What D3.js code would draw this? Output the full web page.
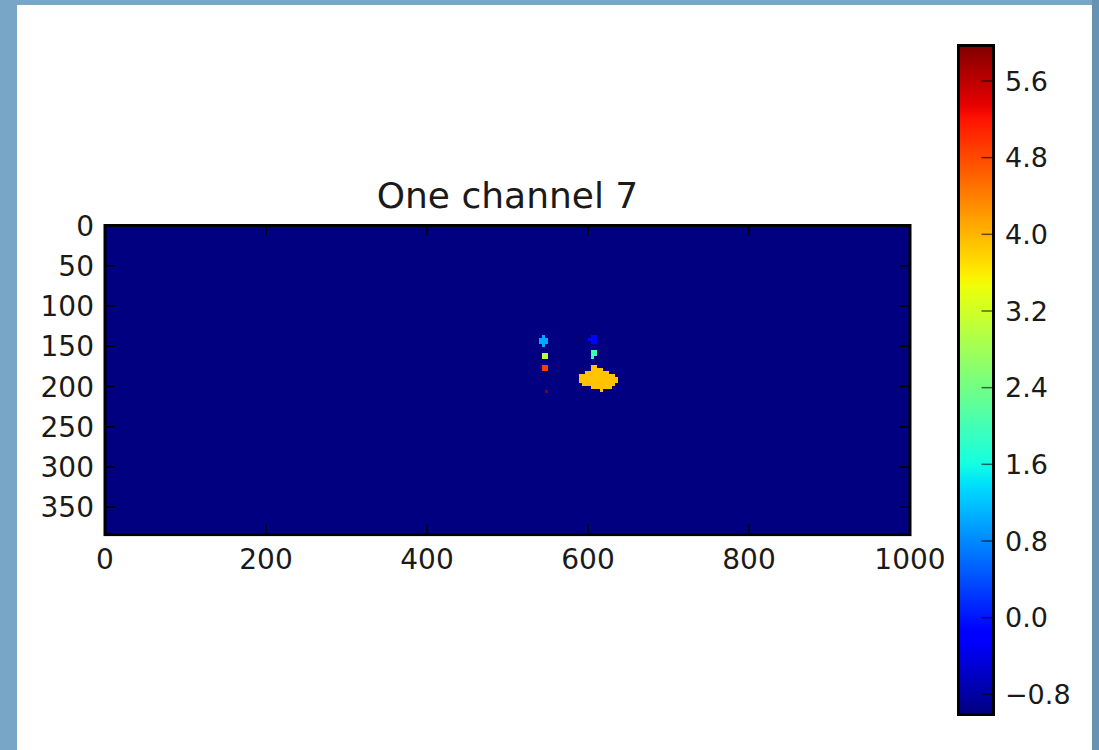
<!DOCTYPE html>
<html>
<head>
<meta charset="utf-8">
<script src="https://cdn.jsdelivr.net/npm/d3@7"></script>
<style>
  body { margin: 0; background: #78a6c6; }
  svg { display: block; }
  text { font-family: "DejaVu Sans", sans-serif; fill: #1a1a1a; }
</style>
</head>
<body>
<div id="root"></div>
<script>
// image data (pixel units of the 1000 x 384 image)
const imageWidth = 1000;
const imageHeight = 384;
const backgroundValue = -1.0;
const colorMin = -1.01;
const colorMax = 5.97;

const xTicks = [0, 200, 400, 600, 800, 1000];
const yTicks = [0, 50, 100, 150, 200, 250, 300, 350];
const colorTicks = [-0.8, 0.0, 0.8, 1.6, 2.4, 3.2, 4.0, 4.8, 5.6];

// bright spots: [x0, y0, x1, y1, value]
const spots = [
  [543, 136, 547, 151, 1.0],
  [539, 140, 550, 147, 1.0],
  [604, 136, 611, 147, -0.1],
  [600, 140, 604, 144, -0.1],
  [543, 158, 550, 166, 3.0],
  [543, 173, 550, 181, 4.9],
  [547, 204, 550, 208, 5.9],
  [604, 155, 611, 162, 2.0],
  [604, 162, 608, 166, 1.7]
];

// orange blob, row by row: [y0, y1, x0, x1]
const blobValue = 3.9;
const blobRows = [
  [173, 177, 604, 611],
  [177, 181, 604, 619],
  [181, 184, 596, 626],
  [184, 188, 589, 634],
  [188, 192, 589, 637],
  [192, 196, 589, 637],
  [196, 199, 593, 634],
  [199, 203, 604, 630],
  [203, 207, 615, 619]
];

const title = "One channel 7";

// jet colormap
const jetR = d3.scaleLinear().domain([0, 0.35, 0.66, 0.89, 1]).range([0, 0, 1, 1, 0.5]).clamp(true);
const jetG = d3.scaleLinear().domain([0, 0.125, 0.375, 0.64, 0.91, 1]).range([0, 0, 1, 1, 0, 0]).clamp(true);
const jetB = d3.scaleLinear().domain([0, 0.11, 0.34, 0.65, 1]).range([0.5, 1, 1, 0, 0]).clamp(true);
const jet = t => d3.rgb(jetR(t) * 255, jetG(t) * 255, jetB(t) * 255).formatHex();
const norm = d3.scaleLinear().domain([colorMin, colorMax]).clamp(true);
const color = v => jet(norm(v));

const width = 1099;
const height = 750;

const svg = d3.select("#root")
  .append("svg")
    .attr("width", width)
    .attr("height", height);

// white figure panel
svg.append("rect")
  .attr("x", 17).attr("y", 5)
  .attr("width", 1075).attr("height", 745)
  .attr("fill", "#ffffff");
svg.append("rect")
  .attr("x", 1092).attr("y", 0)
  .attr("width", 7).attr("height", height)
  .attr("fill", "#6793b3");

const x = d3.scaleLinear().domain([0, imageWidth]).range([105, 910]);
const y = d3.scaleLinear().domain([0, imageHeight]).range([225.5, 534.6]);

const plot = svg.append("g");

plot.append("rect")
  .attr("x", x(0)).attr("y", y(0))
  .attr("width", x(imageWidth) - x(0))
  .attr("height", y(imageHeight) - y(0))
  .attr("fill", color(backgroundValue));

const cells = spots.map(d => ({x0: d[0], y0: d[1], x1: d[2], y1: d[3], v: d[4]}))
  .concat(blobRows.map(r => ({x0: r[2], y0: r[0], x1: r[3], y1: r[1], v: blobValue})));

plot.append("g")
    .attr("shape-rendering", "crispEdges")
  .selectAll("rect")
  .data(cells)
  .join("rect")
    .attr("x", d => x(d.x0))
    .attr("y", d => y(d.y0))
    .attr("width", d => x(d.x1) - x(d.x0))
    .attr("height", d => y(d.y1) - y(d.y0))
    .attr("fill", d => color(d.v));

// ticks on all four sides, pointing inwards
const tickLen = 10;
const ticks = plot.append("g").attr("stroke", "#000").attr("stroke-width", 1.5);
ticks.selectAll(".xb").data(xTicks).join("line")
  .attr("x1", d => x(d)).attr("x2", d => x(d))
  .attr("y1", y(imageHeight)).attr("y2", y(imageHeight) - tickLen);
ticks.selectAll(".xt").data(xTicks).join("line")
  .attr("x1", d => x(d)).attr("x2", d => x(d))
  .attr("y1", y(0)).attr("y2", y(0) + tickLen);
ticks.selectAll(".yl").data(yTicks).join("line")
  .attr("y1", d => y(d)).attr("y2", d => y(d))
  .attr("x1", x(0)).attr("x2", x(0) + tickLen);
ticks.selectAll(".yr").data(yTicks).join("line")
  .attr("y1", d => y(d)).attr("y2", d => y(d))
  .attr("x1", x(imageWidth)).attr("x2", x(imageWidth) - tickLen);

plot.append("rect")
  .attr("x", x(0)).attr("y", y(0))
  .attr("width", x(imageWidth) - x(0))
  .attr("height", y(imageHeight) - y(0))
  .attr("fill", "none")
  .attr("stroke", "#000")
  .attr("stroke-width", 3);

plot.selectAll(".xlab").data(xTicks).join("text")
  .attr("x", d => x(d))
  .attr("y", 569)
  .attr("text-anchor", "middle")
  .attr("font-size", 28)
  .text(d => d);

plot.selectAll(".ylab").data(yTicks).join("text")
  .attr("x", 94)
  .attr("y", d => y(d))
  .attr("dy", "0.36em")
  .attr("text-anchor", "end")
  .attr("font-size", 28)
  .text(d => d);

plot.append("text")
  .attr("x", (x(0) + x(imageWidth)) / 2)
  .attr("y", 208)
  .attr("text-anchor", "middle")
  .attr("font-size", 36)
  .text(title);

// colorbar
const cbX = 958.5, cbW = 35;
const c = d3.scaleLinear().domain([colorMin, colorMax]).range([714.5, 45.5]);

const grad = svg.append("defs").append("linearGradient")
  .attr("id", "jet")
  .attr("x1", 0).attr("y1", 1).attr("x2", 0).attr("y2", 0);
grad.selectAll("stop")
  .data(d3.range(0, 1.0001, 1 / 64))
  .join("stop")
    .attr("offset", d => d)
    .attr("stop-color", d => jet(d));

svg.append("rect")
  .attr("x", cbX).attr("y", c(colorMax))
  .attr("width", cbW).attr("height", c(colorMin) - c(colorMax))
  .attr("fill", "url(#jet)");

svg.append("g")
    .attr("stroke", "#000").attr("stroke-opacity", 0.6).attr("stroke-width", 1.5)
  .selectAll("line")
  .data(colorTicks)
  .join("line")
    .attr("x1", cbX + cbW - 12).attr("x2", cbX + cbW)
    .attr("y1", d => c(d)).attr("y2", d => c(d));

svg.append("rect")
  .attr("x", cbX).attr("y", c(colorMax))
  .attr("width", cbW).attr("height", c(colorMin) - c(colorMax))
  .attr("fill", "none")
  .attr("stroke", "#000")
  .attr("stroke-width", 3);

const fmt = d3.format(".1f");
svg.selectAll(".cblab").data(colorTicks).join("text")
  .attr("x", 1005)
  .attr("y", d => c(d))
  .attr("dy", "0.36em")
  .attr("font-size", 27)
  .text(d => fmt(d));
</script>
</body>
</html>
